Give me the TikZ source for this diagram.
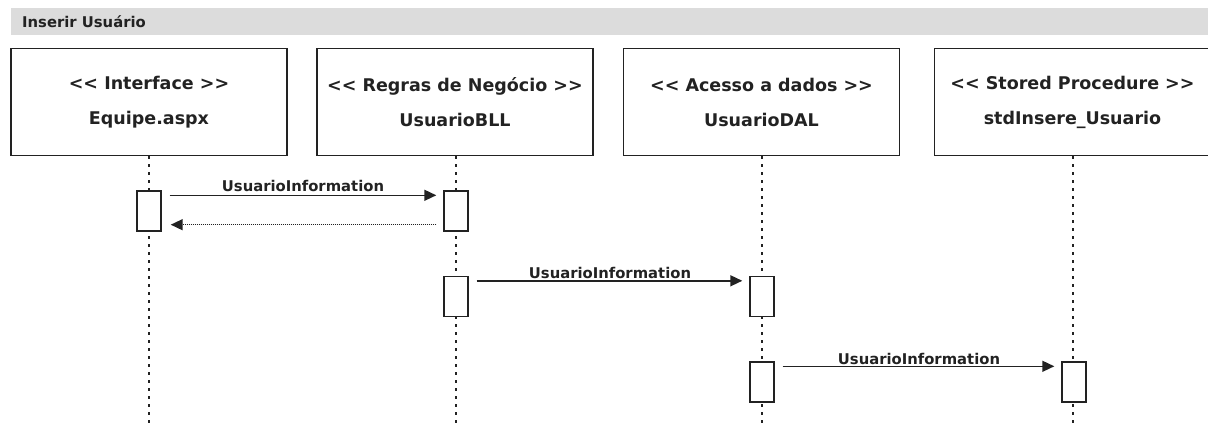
\documentclass[tikz,border=0pt]{standalone}
\usepackage{fontspec}
\setmainfont{DejaVu Sans}
\usetikzlibrary{arrows.meta}
\definecolor{band}{HTML}{DCDCDC}
\definecolor{ink}{HTML}{222222}
\newcommand{\dlt}{<\kern0pt<}
\newcommand{\dgt}{>\kern0pt>}
\tikzset{
  objbox/.style={draw=ink, line width=1.4pt, minimum width=276pt, minimum height=107pt,
    inner sep=0pt, align=center, font=\fontsize{17.5}{35}\selectfont\bfseries, text=ink},
  lifeline/.style={draw=ink, line width=1.8pt, dash pattern=on 3pt off 5pt},
  actbar/.style={draw=ink, fill=white, line width=1.4pt, minimum width=24pt, minimum height=40pt, inner sep=0pt},
  msg/.style={draw=ink, line width=1.5pt, -{Triangle[length=12pt,width=11pt]}},
  reply/.style={msg, dash pattern=on 1pt off 1pt},
  msglabel/.style={font=\fontsize{14.8}{15}\selectfont\bfseries, text=ink, inner sep=0pt, anchor=base}
}
\begin{document}
\begin{tikzpicture}[x=1pt, y=-1pt]
\useasboundingbox (0,0) rectangle (1208,425);
% title band
\fill[band] (11,8) rectangle (1208,35);
\node[font=\fontsize{14.8}{15}\selectfont\bfseries, text=ink, anchor=base west, inner sep=0pt] (title) at (22,28) {Inserir Usuário};

% participants
\node[objbox] (p1) at (149,102) {\dlt{} Interface \dgt\\Equipe.aspx};
\node[objbox] (p2) at (455,102) {\dlt{} Regras de Negócio \dgt\\UsuarioBLL};
\node[objbox] (p3) at (761.5,102) {\dlt{} Acesso a dados \dgt\\UsuarioDAL};
\node[objbox] (p4) at (1072.5,102) {\dlt{} Stored Procedure \dgt\\stdInsere\_Usuario};

% lifelines
\coordinate (e1) at (149,425);
\coordinate (e2) at (456,425);
\coordinate (e3) at (762,425);
\coordinate (e4) at (1073,425);
\draw[lifeline] (p1.south) -- (e1);
\draw[lifeline] ([xshift=1pt]p2.south) -- (e2);
\draw[lifeline] ([xshift=0.5pt]p3.south) -- (e3);
\draw[lifeline] ([xshift=0.5pt]p4.south) -- (e4);

% activation bars
\node[actbar] (a1) at (149,211) {};
\node[actbar] (a2) at (456,211) {};
\node[actbar] (b2) at (456,296.5) {};
\node[actbar] (b3) at (762,296.5) {};
\node[actbar] (c3) at (762,382) {};
\node[actbar] (c4) at (1074,382) {};

% messages
\draw[msg] ([xshift=8pt,yshift=-5pt]a1.north east) -- ([xshift=-7pt,yshift=-5pt]a2.north west);
\node[msglabel] (l1) at (303,192) {UsuarioInformation};
\draw[reply] ([xshift=-7pt,yshift=7pt]a2.south west) -- ([xshift=9pt,yshift=7pt]a1.south east);

\draw[msg] ([xshift=8pt,yshift=-5pt]b2.north east) -- ([xshift=-7pt,yshift=-5pt]b3.north west);
\node[msglabel] (l2) at (610,278) {UsuarioInformation};

\draw[msg] ([xshift=8pt,yshift=-5pt]c3.north east) -- ([xshift=-7pt,yshift=-5pt]c4.north west);
\node[msglabel] (l3) at (919,364) {UsuarioInformation};
\end{tikzpicture}
\end{document}
